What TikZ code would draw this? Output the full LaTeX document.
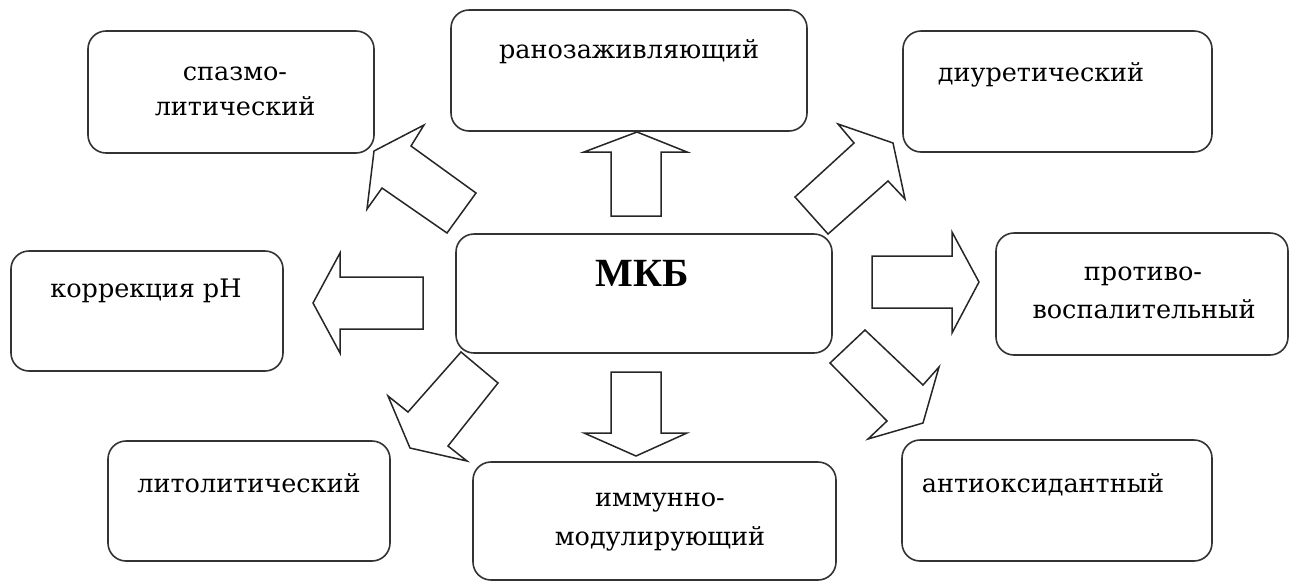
\documentclass[tikz,border=0pt]{standalone}
\usepackage{fontspec}
\setmainfont{DejaVu Serif}
\newfontfamily\mkbfont{Liberation Serif}
\begin{document}
\begin{tikzpicture}[x=1pt,y=-1pt,
  box/.style={draw=black!80, line width=1.6pt, rounded corners=18pt, inner sep=0pt},
  lbl/.style={font=\fontsize{25.5}{25.5}\selectfont, anchor=base, inner sep=0pt, text=black},
  mkb/.style={font=\mkbfont\fontsize{40}{40}\bfseries\selectfont, anchor=base, inner sep=0pt, text=black},
  barrow/.style={draw=black!85, line width=1.5pt, fill=white, line join=miter}]
\useasboundingbox (0,0) rectangle (1290,582);
% boxes
\node[box, minimum width=286pt, minimum height=122pt] (spazm) at (231,92) {};
\node[box, minimum width=356pt, minimum height=121pt] (rana) at (629,70.5) {};
\node[box, minimum width=309pt, minimum height=121pt] (diur) at (1057.5,91.5) {};
\node[box, minimum width=272pt, minimum height=120pt] (korr) at (147,311) {};
\node[box, minimum width=376pt, minimum height=119pt] (mkb) at (644,293.5) {};
\node[box, minimum width=292pt, minimum height=122pt] (protiv) at (1142,294) {};
\node[box, minimum width=282pt, minimum height=120pt] (lito) at (249,501) {};
\node[box, minimum width=363pt, minimum height=118pt] (immun) at (654.5,521) {};
\node[box, minimum width=310pt, minimum height=121pt] (antiox) at (1057,500.5) {};
% labels
\node[lbl] (t1a) at (235,80) {спазмо-};
\node[lbl] (t1b) at (235,115) {литический};
\node[lbl] (t2) at (629,58) {ранозаживляющий};
\node[lbl] (t3) at (1041,81) {диуретический};
\node[lbl] (t4) at (146,297) {коррекция рН};
\node[mkb] (t5) at (642,286) {МКБ};
\node[lbl] (t6a) at (1143,280) {противо-};
\node[lbl] (t6b) at (1144,318) {воспалительный};
\node[lbl] (t7) at (249,492) {литолитический};
\node[lbl] (t8a) at (660,506) {иммунно-};
\node[lbl] (t8b) at (660,545) {модулирующий};
\node[lbl] (t9) at (1043,492) {антиоксидантный};
% block arrows
\draw[barrow] (637,132) -- (687,152) -- (661,152) -- (661,216) -- (611,216) -- (611,152) -- (584,152) -- cycle;
\draw[barrow] (636,456) -- (687,433) -- (661,433) -- (661,372) -- (611,372) -- (611,433) -- (584,433) -- cycle;
\draw[barrow] (313,303) -- (340,253) -- (340,277) -- (423,277) -- (423,329) -- (340,329) -- (340,353) -- cycle;
\draw[barrow] (979,282) -- (952,232) -- (952,256) -- (872,256) -- (872,308) -- (952,308) -- (952,333) -- cycle;
\draw[barrow] (374,151) -- (424,125) -- (411,146) -- (476,193) -- (447,233) -- (382,188) -- (367,209) -- cycle;
\draw[barrow] (893,143) -- (838,124) -- (854,143) -- (795,197) -- (828,234) -- (888,181) -- (905,199) -- cycle;
\draw[barrow] (410,448) -- (467,461) -- (448,446) -- (498,383) -- (461,352) -- (408,412) -- (388,396) -- cycle;
\draw[barrow] (923,423) -- (868,439) -- (887,421) -- (830,363) -- (865,330) -- (923,385) -- (939,367) -- cycle;
\end{tikzpicture}
\end{document}
